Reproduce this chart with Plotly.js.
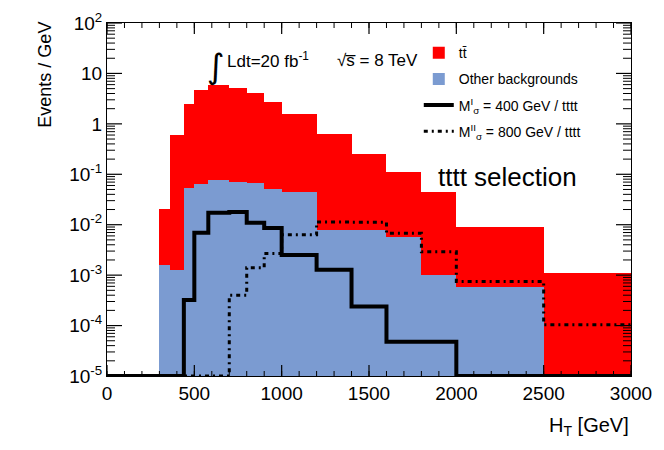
<!DOCTYPE html>
<html>
<head>
<meta charset="utf-8">
<script src="https://cdn.plot.ly/plotly-3.0.1.min.js"></script>
<style>
  body { margin: 0; background: white; }
  #plot { width: 664px; height: 450px; }
</style>
</head>
<body>
<div id="plot"></div>
<script>
// bin edges of the H_T histograms (GeV)
const binEdges = [0, 300, 360, 440, 500, 580, 700, 800, 900, 1000, 1200, 1400, 1600, 1800, 2000, 2500, 3000];

// events / GeV per bin
const ttbar = [0, 0.0187, 0.599, 2.38, 4.60, 5.77, 5.10, 4.05, 2.68, 1.50, 0.612, 0.241, 0.107, 0.043, 0.0086, 0.0011];
const otherBkg = [0, 0.0016, 0.00124, 0.0528, 0.0636, 0.0773, 0.0695, 0.0673, 0.0513, 0.044, 0.0079, 0.0079, 0.0058, 0.00102, 0.00058, 0];
const sig400 = [0, 0, 0, 0.00032, 0.0069, 0.0172, 0.0178, 0.0109, 0.0086, 0.0025, 0.00128, 0.00024, 0.000048, 0.000048, 0, 0];
const sig800 = [0, 0, 0, 0, 0, 0, 0.0004, 0.0014, 0.0027, 0.0063, 0.0113, 0.0112, 0.0068, 0.0029, 0.00075, 0.000104];

const yTickVals = [1e2, 1e1, 1, 1e-1, 1e-2, 1e-3, 1e-4, 1e-5];
const yTickText = ['10<sup>2</sup>', '10', '1', '10<sup>-1</sup>', '10<sup>-2</sup>', '10<sup>-3</sup>', '10<sup>-4</sup>', '10<sup>-5</sup>'];
const xTickVals = [0, 500, 1000, 1500, 2000, 2500, 3000];

const xRange = [0, 3000];
const yRange = [-5, 2];   // log10
const yMin = 1e-5;
const font = 'Liberation Sans';

const margin = {l: 107, r: 33, t: 23, b: 74};
const plotW = 664 - margin.l - margin.r;
const plotH = 450 - margin.t - margin.b;

let centers = [];
let widths = [];
for (let i = 0; i < binEdges.length - 1; i++) {
    centers.push((binEdges[i] + binEdges[i + 1]) / 2);
    widths.push(binEdges[i + 1] - binEdges[i]);
}

// stacked total: ttbar sits on top of the other backgrounds
let stackTotal = ttbar.map((v, i) => v + otherBkg[i]);

// step lines: empty bins are drawn on the bottom of the frame, like ROOT does
function stepY(values) {
    let y = values.map(v => (v > 0 ? v : yMin));
    y.push(y[y.length - 1]);
    return y;
}

// ROOT style tick marks on all four sides, pointing into the frame
let xMinorVals = [];
for (let v = xRange[0]; v <= xRange[1]; v += 100) xMinorVals.push(v);
let yMinorVals = [];
for (let d = yRange[0]; d < yRange[1]; d++) {
    for (let k = 2; k <= 9; k++) yMinorVals.push(k * Math.pow(10, d));
}
const gevPerPx = (xRange[1] - xRange[0]) / plotW;
const decPerPx = (yRange[1] - yRange[0]) / plotH;

function tickSegments(xVals, yVals, xLenPx, yLenPx) {
    let x = [], y = [];
    const yLo = Math.pow(10, yRange[0]), yHi = Math.pow(10, yRange[1]);
    xVals.forEach(v => {
        x.push(v, v, null, v, v, null);
        y.push(yLo, yLo * Math.pow(10, xLenPx * decPerPx), null,
               yHi, yHi / Math.pow(10, xLenPx * decPerPx), null);
    });
    yVals.forEach(v => {
        x.push(xRange[0], xRange[0] + yLenPx * gevPerPx, null,
               xRange[1], xRange[1] - yLenPx * gevPerPx, null);
        y.push(v, v, null, v, v, null);
    });
    return {x: x, y: y};
}
let majorTicks = tickSegments(xTickVals, yTickVals, 11, 15);
let minorTicks = tickSegments(xMinorVals, yMinorVals, 5, 8);

let ttTrace = {
    type: 'bar',
    x: centers,
    y: stackTotal,
    width: widths,
    name: 'tt\u0304',
    marker: {color: '#ff0000', line: {width: 0}},
    legendgroup: 'a',
    hoverinfo: 'skip'
};
let otherTrace = {
    type: 'bar',
    x: centers,
    y: otherBkg,
    width: widths,
    name: 'Other backgrounds',
    marker: {color: '#7b9bd1', line: {width: 0}},
    legendgroup: 'b',
    hoverinfo: 'skip'
};
let sig400Trace = {
    type: 'scatter',
    mode: 'lines',
    x: binEdges,
    y: stepY(sig400),
    line: {shape: 'hv', color: 'black', width: 4},
    name: 'M<sup>I</sup><sub>\u03c3</sub> = 400 GeV / tttt',
    legendgroup: 'c',
    cliponaxis: false
};
let sig800Trace = {
    type: 'scatter',
    mode: 'lines',
    x: binEdges,
    y: stepY(sig800),
    line: {shape: 'hv', color: 'black', width: 3, dash: '4px,4px,2px,4px'},
    name: 'M<sup>II</sup><sub>\u03c3</sub> = 800 GeV / tttt',
    legendgroup: 'd',
    cliponaxis: false
};
let majorTickTrace = {
    type: 'scatter', mode: 'lines', x: majorTicks.x, y: majorTicks.y,
    line: {color: 'black', width: 1.2}, connectgaps: false,
    showlegend: false, hoverinfo: 'skip'
};
let minorTickTrace = {
    type: 'scatter', mode: 'lines', x: minorTicks.x, y: minorTicks.y,
    line: {color: 'black', width: 1}, connectgaps: false,
    showlegend: false, hoverinfo: 'skip'
};

let layout = {
    width: 664,
    height: 450,
    margin: margin,
    paper_bgcolor: 'white',
    plot_bgcolor: 'white',
    barmode: 'overlay',
    bargap: 0,
    font: {family: font, color: 'black', size: 19},
    showlegend: true,
    legend: {
        x: 0.595, y: 0.96, xanchor: 'left', yanchor: 'top',
        bgcolor: 'rgba(0,0,0,0)',
        font: {size: 14, family: font},
        tracegroupgap: 5,
        itemwidth: 30,
        traceorder: 'grouped'
    },
    xaxis: {
        range: xRange,
        showgrid: false, zeroline: false,
        showline: true, linecolor: 'black', linewidth: 1, mirror: true,
        ticks: '', tickmode: 'array', tickvals: xTickVals,
        tickfont: {size: 19, family: font}
    },
    yaxis: {
        type: 'log',
        range: yRange,
        showgrid: false, zeroline: false,
        showline: true, linecolor: 'black', linewidth: 1, mirror: true,
        ticks: '', tickmode: 'array', tickvals: yTickVals, ticktext: yTickText,
        tickfont: {size: 19, family: font}
    },
    annotations: [
        {xref: 'paper', yref: 'paper', x: -0.12, y: 0.854, text: 'Events / GeV', textangle: -90,
         showarrow: false, xanchor: 'center', yanchor: 'middle', font: {size: 18, family: font}},
        {xref: 'paper', yref: 'paper', x: 1.0, y: -0.142, text: 'H<sub>T</sub> [GeV]',
         showarrow: false, xanchor: 'right', yanchor: 'middle', font: {size: 20, family: font}},
        {xref: 'paper', yref: 'paper', x: 0.2086, y: 0.878, text: '\u222b',
         showarrow: false, xanchor: 'center', yanchor: 'middle', font: {size: 34, family: 'DejaVu Sans'}},
        {xref: 'paper', yref: 'paper', x: 0.2258, y: 0.895, text: 'Ldt=20 fb<sup>-1</sup>',
         showarrow: false, xanchor: 'left', yanchor: 'middle', font: {size: 17, family: font}},
        {xref: 'paper', yref: 'paper', x: 0.436, y: 0.895, text: '\u221as\u0305 = 8 TeV',
         showarrow: false, xanchor: 'left', yanchor: 'middle', font: {size: 17, family: font}},
        {xref: 'paper', yref: 'paper', x: 0.6285, y: 0.565, text: 'tttt selection',
         showarrow: false, xanchor: 'left', yanchor: 'middle', font: {size: 26, family: font}}
    ]
};

Plotly.newPlot('plot',
    [ttTrace, otherTrace, sig400Trace, sig800Trace, majorTickTrace, minorTickTrace],
    layout, {displayModeBar: false, staticPlot: true});
</script>
</body>
</html>
